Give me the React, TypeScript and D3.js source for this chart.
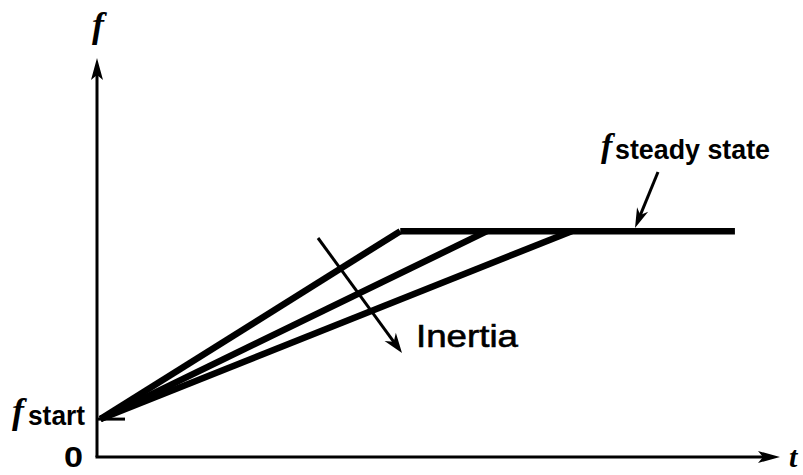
import React from "react";
import * as d3 from "d3";

// Data (t, f in arbitrary units)
const tStart = 0.05;
const fStart = 0.95;
const fSteady = 5.66;
const riseEnds = [4.44, 5.71, 6.95]; // t where each ramp reaches steady state
const tEnd = 9.34;
const tMax = 10;
const fMax = 10;

const W = 803;
const H = 475;

export default function App() {
  const x = d3.scaleLinear().domain([0, tMax]).range([97, 780]);
  const y = d3.scaleLinear().domain([0, fMax]).range([457, 58]);
  const line = d3
    .line<[number, number]>()
    .x((d) => x(d[0]))
    .y((d) => y(d[1]));

  const ramps = riseEnds.map((te) =>
    line([
      [tStart, fStart],
      [te, fSteady],
    ])
  );
  const steady = line([
    [riseEnds[0], fSteady],
    [tEnd, fSteady],
  ]);

  const x0 = x(0);
  const y0 = y(0);

  // inertia arrow
  const ia = { x1: 318, y1: 238, x2: 402, y2: 353 };
  const ang = Math.atan2(ia.y2 - ia.y1, ia.x2 - ia.x1);
  const head = (px: number, py: number, a: number, len: number, w: number) => {
    const bx = px - len * Math.cos(a);
    const by = py - len * Math.sin(a);
    const nx = -Math.sin(a) * w;
    const ny = Math.cos(a) * w;
    return `M${px},${py}L${bx + nx},${by + ny}L${px - len * 0.7 * Math.cos(a)},${py - len * 0.7 * Math.sin(a)}L${bx - nx},${by - ny}Z`;
  };
  const sa = { x1: 658, y1: 172, x2: 635, y2: 228 };
  const ang2 = Math.atan2(sa.y2 - sa.y1, sa.x2 - sa.x1);

  const font = "'Liberation Sans', Arial, sans-serif";
  const ifont = "'Liberation Serif', 'Times New Roman', serif";

  return (
    <svg width={W} height={H} style={{ position: "absolute", left: 0, top: 0, background: "#fff" }}>
      <rect width={W} height={H} fill="#fff" />
      {/* axes */}
      <line x1={x0} y1={y0} x2={x0} y2={y(fMax) + 10} stroke="#000" strokeWidth={3} />
      <path d={`M${x0},${y(fMax)}L${x0 - 6},${y(fMax) + 22}L${x0},${y(fMax) + 17}L${x0 + 6},${y(fMax) + 22}Z`} fill="#000" />
      <line x1={x0 - 1.5} y1={y0} x2={x(tMax) - 10} y2={y0} stroke="#000" strokeWidth={3} />
      <path d={`M${x(tMax)},${y0}L${x(tMax) - 22},${y0 - 6}L${x(tMax) - 17},${y0}L${x(tMax) - 22},${y0 + 6}Z`} fill="#000" />

      {/* f_start tick */}
      <line x1={x0} y1={y(fStart)} x2={x0 + 28} y2={y(fStart)} stroke="#000" strokeWidth={3} />

      {/* ramps */}
      {ramps.map((d, i) => (
        <path key={i} d={d || ""} fill="none" stroke="#000" strokeWidth={6.5} strokeLinejoin="round" />
      ))}
      <path d={steady || ""} fill="none" stroke="#000" strokeWidth={6.5} />

      {/* inertia arrow */}
      <line x1={ia.x1} y1={ia.y1} x2={ia.x2 - 8 * Math.cos(ang)} y2={ia.y2 - 8 * Math.sin(ang)} stroke="#000" strokeWidth={3} />
      <path d={head(ia.x2, ia.y2, ang, 20, 7)} fill="#000" />
      <text x={416} y={347} fontFamily={font} fontSize={31} textLength={102} lengthAdjust="spacingAndGlyphs" fill="#000" stroke="#000" strokeWidth={0.6}>
        Inertia
      </text>

      {/* steady state arrow */}
      <line x1={sa.x1} y1={sa.y1} x2={sa.x2 - 8 * Math.cos(ang2)} y2={sa.y2 - 8 * Math.sin(ang2)} stroke="#000" strokeWidth={3} />
      <path d={head(sa.x2, sa.y2, ang2, 20, 6)} fill="#000" />

      {/* labels */}
      <text x={601} y={157} fontFamily={ifont} fontStyle="italic" fontWeight="bold" fontSize={34} fill="#000">
        f
      </text>
      <text x={615} y={159} fontFamily={font} fontWeight="bold" fontSize={27} textLength={155} lengthAdjust="spacingAndGlyphs" fill="#000">
        steady state
      </text>

      <text x={12} y={423} fontFamily={ifont} fontStyle="italic" fontWeight="bold" fontSize={36} fill="#000">
        f
      </text>
      <text x={28} y={425} fontFamily={font} fontWeight="bold" fontSize={27} textLength={57} lengthAdjust="spacingAndGlyphs" fill="#000">
        start
      </text>

      <text x={64} y={467} fontFamily={font} fontWeight="bold" fontSize={30} textLength={19} lengthAdjust="spacingAndGlyphs" fill="#000">
        0
      </text>

      <text x={789} y={467} fontFamily={ifont} fontStyle="italic" fontWeight="bold" fontSize={30} fill="#000">
        t
      </text>
      <text x={92} y={37} fontFamily={ifont} fontStyle="italic" fontWeight="bold" fontSize={36} fill="#000">
        f
      </text>
    </svg>
  );
}
